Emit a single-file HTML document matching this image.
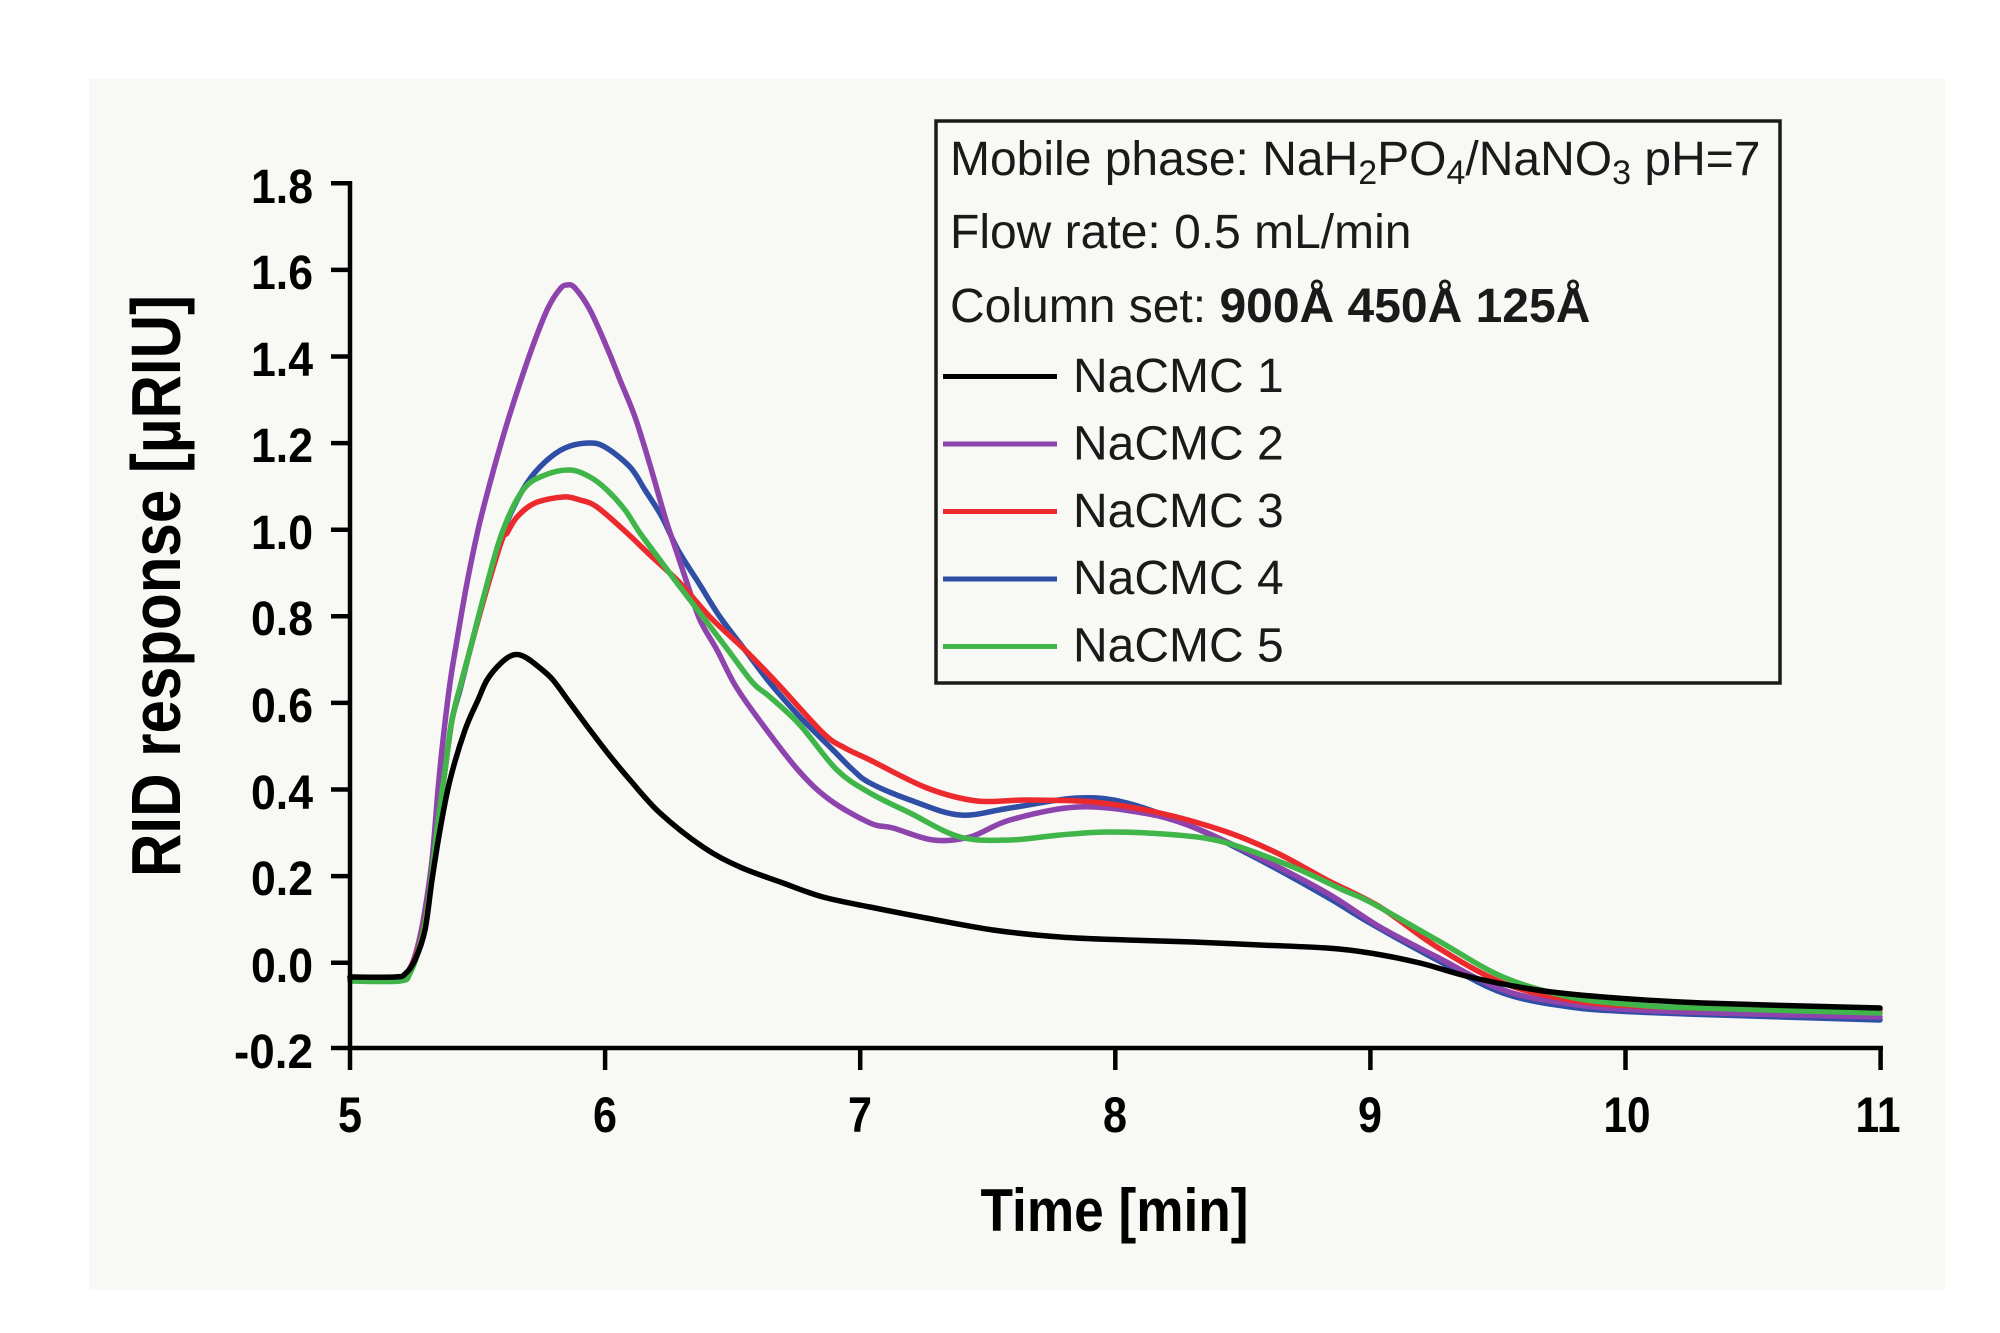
<!DOCTYPE html>
<html>
<head>
<meta charset="utf-8">
<style>
  html,body{margin:0;padding:0;background:#ffffff;}
  svg{display:block;}
  text{font-family:"Liberation Sans",Arial,sans-serif;}
</style>
</head>
<body>
<svg id="chart" width="2000" height="1333" viewBox="0 0 2000 1333" xmlns="http://www.w3.org/2000/svg">
  <rect x="0" y="0" width="2000" height="1333" fill="#ffffff"/>
  <rect x="89" y="79" width="1856" height="1211" fill="#f8f8f5"/>

  <!-- Curves -->
  <g fill="none" stroke-width="5.5" stroke-linejoin="round" stroke-linecap="round">
    <!-- NaCMC 4 blue -->
    <polyline class="c" stroke="#2f4ea6" points="350,980 400,980 410,972 420,945 428,905 437,830 445,770 452,720 460,690 470,650 483,600 497,550 510,515 527,483 545,462 565,448 588,443 605,447 630,467 645,490 662,517 678,550 700,585 720,617 745,650 770,683 800,717 833,750 853,770 870,783 910,800 960,815 1010,808 1077,798 1127,803 1193,827 1260,860 1327,897 1370,923 1437,960 1503,993 1570,1007 1637,1012 1750,1016 1880,1020"/>
    <!-- NaCMC 2 purple -->
    <polyline class="c" stroke="#8e44ad" points="350,978 400,977 410,968 418,945 425,910 432,860 438,790 443,740 450,683 457,640 467,583 478,530 490,483 505,430 520,383 535,340 548,308 560,289 567,285 575,288 590,310 608,350 620,380 635,417 650,465 665,517 676,550 687,583 700,620 717,650 735,685 757,717 798,770 830,800 870,823 893,828 933,840 970,837 1010,820 1077,807 1143,813 1193,827 1260,858 1327,893 1380,927 1437,957 1503,990 1570,1004 1637,1010 1750,1014 1880,1017"/>
    <!-- NaCMC 3 red -->
    <polyline class="c" stroke="#ec2a2e" points="350,977 400,977 410,969 420,943 428,903 437,830 445,770 452,720 462,680 470,650 486,592 502,540 507,533 517,517 535,503 563,497 580,500 597,507 627,533 650,555 680,583 710,617 745,650 777,683 823,733 845,748 870,760 927,788 977,801 1027,800 1093,802 1160,813 1227,832 1277,853 1327,880 1380,907 1437,947 1503,983 1570,1000 1637,1006 1750,1009 1880,1010"/>
    <!-- NaCMC 5 green -->
    <polyline class="c" stroke="#40b54a" points="350,981 400,981 410,973 420,945 428,905 437,830 445,770 452,720 462,680 470,650 485,592 502,533 523,490 545,475 570,470 590,477 607,490 625,510 640,533 660,560 677,583 703,617 728,650 753,683 770,697 800,725 837,770 870,793 910,813 960,837 1010,840 1060,835 1110,832 1177,835 1227,843 1293,867 1343,890 1370,902 1437,940 1503,977 1570,997 1637,1005 1700,1008 1880,1013"/>
    <!-- NaCMC 1 black -->
    <polyline class="c" stroke="#000000" points="350,977 395,977 405,974 415,960 425,930 432,880 440,830 450,780 465,730 478,700 487,680 500,664 513,655 525,657 540,668 553,680 570,703 590,730 610,756 630,780 660,813 703,847 740,867 783,883 823,897 870,907 926,918 993,930 1060,937 1127,940 1193,942 1260,945 1327,948 1370,953 1420,963 1470,977 1537,990 1603,997 1703,1003 1880,1008"/>
  </g>

  <!-- Axes -->
  <g stroke="#000" stroke-width="4.5" fill="none" stroke-linecap="butt">
    <line x1="350" y1="181" x2="350" y2="1050"/>
    <line x1="348" y1="1048" x2="1883" y2="1048"/>
    <line x1="331" y1="183.3" x2="350" y2="183.3"/>
    <line x1="331" y1="269.9" x2="350" y2="269.9"/>
    <line x1="331" y1="356.5" x2="350" y2="356.5"/>
    <line x1="331" y1="443.1" x2="350" y2="443.1"/>
    <line x1="331" y1="529.7" x2="350" y2="529.7"/>
    <line x1="331" y1="616.3" x2="350" y2="616.3"/>
    <line x1="331" y1="702.9" x2="350" y2="702.9"/>
    <line x1="331" y1="789.5" x2="350" y2="789.5"/>
    <line x1="331" y1="876.1" x2="350" y2="876.1"/>
    <line x1="331" y1="962.7" x2="350" y2="962.7"/>
    <line x1="331" y1="1048" x2="350" y2="1048"/>
    <line x1="350" y1="1048" x2="350" y2="1070"/>
    <line x1="605.1" y1="1048" x2="605.1" y2="1070"/>
    <line x1="860.2" y1="1048" x2="860.2" y2="1070"/>
    <line x1="1115.3" y1="1048" x2="1115.3" y2="1070"/>
    <line x1="1370.4" y1="1048" x2="1370.4" y2="1070"/>
    <line x1="1625.5" y1="1048" x2="1625.5" y2="1070"/>
    <line x1="1880.6" y1="1048" x2="1880.6" y2="1070"/>
  </g>

  <!-- Y tick labels -->
  <g font-size="48" font-weight="bold" fill="#000" text-anchor="end">
    <text x="313" y="203" textLength="62" lengthAdjust="spacingAndGlyphs">1.8</text>
    <text x="313" y="289" textLength="62" lengthAdjust="spacingAndGlyphs">1.6</text>
    <text x="313" y="376" textLength="62" lengthAdjust="spacingAndGlyphs">1.4</text>
    <text x="313" y="462" textLength="62" lengthAdjust="spacingAndGlyphs">1.2</text>
    <text x="313" y="549" textLength="62" lengthAdjust="spacingAndGlyphs">1.0</text>
    <text x="313" y="635" textLength="62" lengthAdjust="spacingAndGlyphs">0.8</text>
    <text x="313" y="722" textLength="62" lengthAdjust="spacingAndGlyphs">0.6</text>
    <text x="313" y="809" textLength="62" lengthAdjust="spacingAndGlyphs">0.4</text>
    <text x="313" y="895" textLength="62" lengthAdjust="spacingAndGlyphs">0.2</text>
    <text x="313" y="982" textLength="62" lengthAdjust="spacingAndGlyphs">0.0</text>
    <text x="313" y="1068" textLength="79" lengthAdjust="spacingAndGlyphs">-0.2</text>
  </g>

  <!-- X tick labels -->
  <g font-size="50" font-weight="bold" fill="#000" text-anchor="middle">
    <text x="350" y="1132" textLength="24" lengthAdjust="spacingAndGlyphs">5</text>
    <text x="605" y="1132" textLength="24" lengthAdjust="spacingAndGlyphs">6</text>
    <text x="860" y="1132" textLength="24" lengthAdjust="spacingAndGlyphs">7</text>
    <text x="1115" y="1132" textLength="24" lengthAdjust="spacingAndGlyphs">8</text>
    <text x="1370" y="1132" textLength="24" lengthAdjust="spacingAndGlyphs">9</text>
    <text x="1627" y="1132" textLength="47" lengthAdjust="spacingAndGlyphs">10</text>
    <text x="1878" y="1132" textLength="45" lengthAdjust="spacingAndGlyphs">11</text>
  </g>

  <!-- Axis titles -->
  <text x="1114.5" y="1231" font-size="60" font-weight="bold" fill="#000" text-anchor="middle" textLength="268" lengthAdjust="spacingAndGlyphs">Time [min]</text>
  <text transform="translate(180,586) rotate(-90)" x="0" y="0" font-size="70" font-weight="bold" fill="#000" text-anchor="middle" textLength="582" lengthAdjust="spacingAndGlyphs">RID response [µRIU]</text>

  <!-- Legend box -->
  <rect x="936" y="121" width="844" height="562" fill="none" stroke="#1a1a1a" stroke-width="3.5"/>
  <g font-size="48" fill="#1a1a1a">
    <text x="950" y="175">Mobile phase: NaH<tspan font-size="34" dy="9">2</tspan><tspan dy="-9">PO</tspan><tspan font-size="34" dy="9">4</tspan><tspan dy="-9">/NaNO</tspan><tspan font-size="34" dy="9">3</tspan><tspan dy="-9"> pH=7</tspan></text>
    <text x="950" y="248">Flow rate: 0.5 mL/min</text>
    <text x="950" y="322">Column set: <tspan font-weight="bold">900Å 450Å 125Å</tspan></text>
    <text x="1073" y="392">NaCMC 1</text>
    <text x="1073" y="459.5">NaCMC 2</text>
    <text x="1073" y="527">NaCMC 3</text>
    <text x="1073" y="594">NaCMC 4</text>
    <text x="1073" y="661.5">NaCMC 5</text>
  </g>
  <g stroke-width="5" fill="none">
    <line x1="943" y1="376.5" x2="1057" y2="376.5" stroke="#000000"/>
    <line x1="943" y1="444" x2="1057" y2="444" stroke="#8e44ad"/>
    <line x1="943" y1="511.5" x2="1057" y2="511.5" stroke="#ec2a2e"/>
    <line x1="943" y1="579" x2="1057" y2="579" stroke="#2f4ea6"/>
    <line x1="943" y1="646.5" x2="1057" y2="646.5" stroke="#40b54a"/>
  </g>
</svg>
<script>
(function(){
  var ns="http://www.w3.org/2000/svg";
  var pls=document.querySelectorAll("polyline.c");
  for(var k=0;k<pls.length;k++){
    var pl=pls[k];
    var raw=pl.getAttribute("points").trim().split(/\s+/);
    var p=[];
    for(var i=0;i<raw.length;i++){var a=raw[i].split(",");p.push([+a[0],+a[1]]);}
    var d="M"+p[0][0]+","+p[0][1];
    for(var i=0;i<p.length-1;i++){
      var p0=p[i-1]||p[i],p1=p[i],p2=p[i+1],p3=p[i+2]||p[i+1];
      var c1x=p1[0]+(p2[0]-p0[0])/6,c1y=p1[1]+(p2[1]-p0[1])/6;
      var c2x=p2[0]-(p3[0]-p1[0])/6,c2y=p2[1]-(p3[1]-p1[1])/6;
      d+=" C"+c1x.toFixed(1)+","+c1y.toFixed(1)+" "+c2x.toFixed(1)+","+c2y.toFixed(1)+" "+p2[0]+","+p2[1];
    }
    var path=document.createElementNS(ns,"path");
    path.setAttribute("d",d);
    path.setAttribute("stroke",pl.getAttribute("stroke"));
    path.setAttribute("fill","none");
    pl.parentNode.replaceChild(path,pl);
  }
})();
</script>
</body>
</html>
